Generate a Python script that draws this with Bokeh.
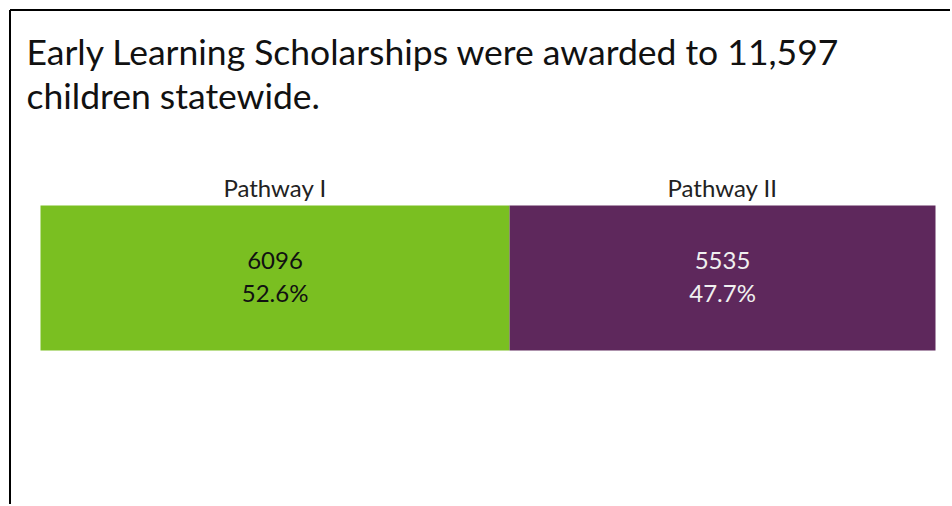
from bokeh.plotting import figure
from bokeh.models import Range1d, ColumnDataSource
from bokeh.core.properties import value
from bokeh.embed import file_html
from bokeh.resources import INLINE

# ---- data ----
categories = ["Pathway I", "Pathway II"]
counts = [6096, 5535]
percent_labels = ["52.6%", "47.7%"]
colors = ["#7abf21", "#5e285c"]
value_text_colors = ["#111111", "#f0f0f0"]
title_lines = ["Early Learning Scholarships were awarded to 11,597", "children statewide."]

FONT = "Lato"
W, H = 950, 504
total = sum(counts)

# layout (canvas pixels)
bar_left_px, bar_right_px = 40, 935
bar_center_px, bar_height_px = 277.5, 145
sx = (bar_right_px - bar_left_px) / total
x_start = -bar_left_px / sx
x_end = (W - bar_left_px) / sx
y_top = bar_center_px / bar_height_px
y_bot = -(H - bar_center_px) / bar_height_px

p = figure(width=W, height=H, output_backend="svg", toolbar_location=None,
           x_range=Range1d(x_start, x_end), y_range=Range1d(y_bot, y_top),
           min_border=0, min_border_left=0, min_border_right=0,
           min_border_top=0, min_border_bottom=0)
p.axis.visible = False
p.grid.visible = False
p.outline_line_color = None
p.background_fill_color = "white"
p.border_fill_color = "white"

lefts, rights = [], []
acc = 0
for c in counts:
    lefts.append(acc)
    acc += c
    rights.append(acc)
mids = [(l + r) / 2 for l, r in zip(lefts, rights)]

src = ColumnDataSource(dict(left=lefts, right=rights, mid=mids, cat=categories,
                            cnt=[str(c) for c in counts], pct=percent_labels,
                            color=colors, tcolor=value_text_colors,
                            y0=[0] * len(counts), ytop=[0.5] * len(counts)))

p.hbar(y="y0", left="left", right="right", height=1.0, fill_color="color",
       line_color=None, source=src)

# category labels above the bar
p.text(x="mid", y="ytop", text="cat", source=src, text_align="center",
       text_baseline="alphabetic", y_offset=-18, text_font=value(FONT),
       text_font_size="24px", text_color="#222222")
# values inside
p.text(x="mid", y="y0", text="cnt", source=src, text_align="center",
       text_baseline="alphabetic", y_offset=-18, text_font=value(FONT),
       text_font_size="24px", text_color="tcolor")
p.text(x="mid", y="y0", text="pct", source=src, text_align="center",
       text_baseline="alphabetic", y_offset=14, text_font=value(FONT),
       text_font_size="24px", text_color="tcolor")

# helpers: canvas pixel -> data
def cx(px):
    return x_start + px / sx

def cy(py):
    return y_top - py / bar_height_px

# title
p.text(x=[cx(26), cx(26)], y=[cy(51), cy(95)], text=title_lines,
       text_align="left", text_baseline="alphabetic", text_font=value(FONT),
       text_font_size="35.5px", text_color="#111111")

# frame border (left and top only, as in a cropped box)
p.segment(x0=[cx(9.5), cx(9.5)], y0=[cy(9.5), cy(9.5)],
          x1=[cx(9.5), cx(W + 5)], y1=[cy(H + 5), cy(9.5)],
          line_color="black", line_width=2)

open("out.html", "w").write(file_html(p, INLINE))
